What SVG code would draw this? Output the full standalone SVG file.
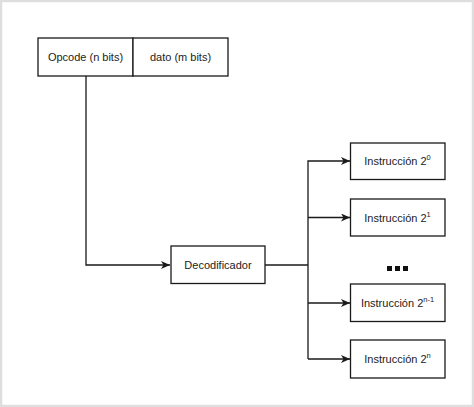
<svg xmlns="http://www.w3.org/2000/svg" width="474" height="407" viewBox="0 0 474 407">
<defs>
<marker id="arr" markerWidth="10" markerHeight="8" refX="9" refY="4" orient="auto" markerUnits="userSpaceOnUse">
<path d="M0,0 L9,4 L0,8 L2.5,4 Z" fill="#1a1a1a"/>
</marker>
</defs>
<style>
.box{fill:#fff;stroke:#1a1a1a;stroke-width:1.3}
.lbl{font-family:"Liberation Sans",Arial,sans-serif;font-size:11px;fill:#222;text-anchor:middle}
.sup{font-size:7.5px}
.conn{fill:none;stroke:#1a1a1a;stroke-width:1.3}
</style>
<rect x="0" y="0" width="474" height="407" fill="#fff"/>
<rect x="1" y="1" width="472" height="405" fill="none" stroke="#dedede" stroke-width="2.5"/>
<g id="connectors">
<path class="conn" d="M86,76 V265 H170" marker-end="url(#arr)"/>
<path class="conn" d="M265,265 H308"/>
<path class="conn" d="M308,359 V161 H350" marker-end="url(#arr)"/>
<path class="conn" d="M308,217.5 H350" marker-end="url(#arr)"/>
<path class="conn" d="M308,303 H350" marker-end="url(#arr)"/>
<path class="conn" d="M308,359 H350" marker-end="url(#arr)"/>
</g>
<g id="opcode"><rect class="box" x="38" y="38" width="95" height="38"/><text class="lbl" x="85.5" y="61">Opcode (n bits)</text></g>
<g id="dato"><rect class="box" x="133" y="38" width="95" height="38"/><text class="lbl" x="180.5" y="61">dato (m bits)</text></g>
<g id="decodificador"><rect class="box" x="171" y="246" width="94" height="37.5"/><text class="lbl" x="218" y="269">Decodificador</text></g>
<g id="instr0"><rect class="box" x="350.5" y="143" width="94.5" height="36.5"/><text class="lbl" x="397.5" y="165">Instrucción 2<tspan class="sup" dy="-5">0</tspan></text></g>
<g id="instr1"><rect class="box" x="350.5" y="199" width="94.5" height="37"/><text class="lbl" x="397.5" y="221.5">Instrucción 2<tspan class="sup" dy="-5">1</tspan></text></g>
<g id="dots"><rect x="387" y="266" width="5" height="5" fill="#111"/><rect x="395" y="266" width="5" height="5" fill="#111"/><rect x="403" y="266" width="5" height="5" fill="#111"/></g>
<g id="instrn1"><rect class="box" x="350.5" y="284" width="94.5" height="37.5"/><text class="lbl" x="397.5" y="307">Instrucción 2<tspan class="sup" dy="-5">n-1</tspan></text></g>
<g id="instrn"><rect class="box" x="350.5" y="340" width="94.5" height="38"/><text class="lbl" x="397.5" y="363">Instrucción 2<tspan class="sup" dy="-5">n</tspan></text></g>
</svg>
